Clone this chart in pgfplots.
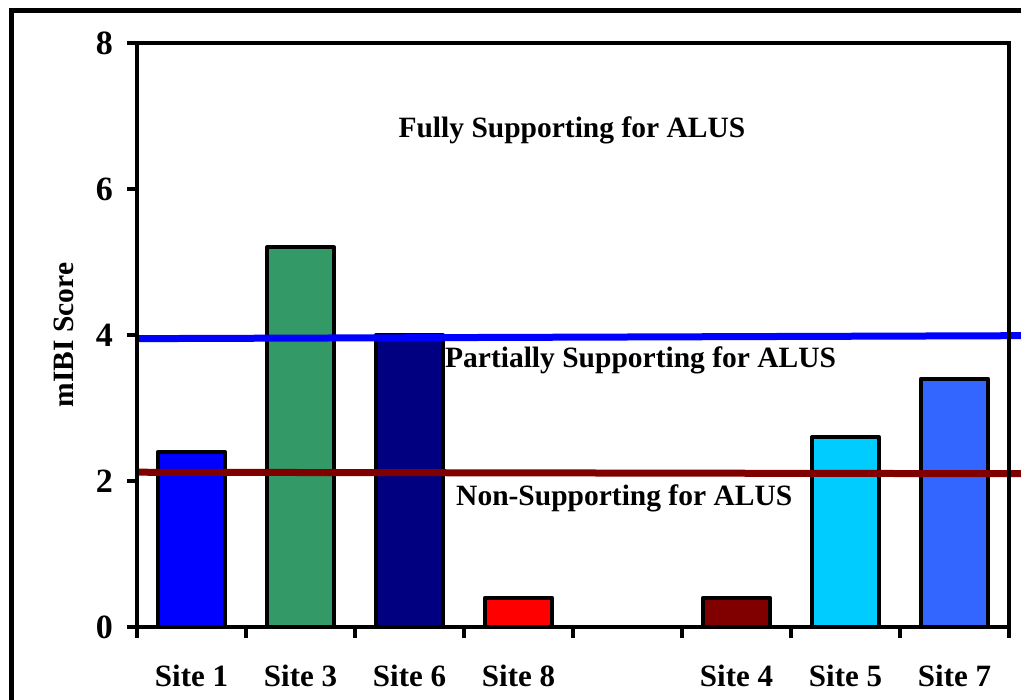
\documentclass[border=0pt]{standalone}
\usepackage{fontspec}
\setmainfont{Liberation Serif}
\usepackage{pgfplots}
\pgfplotsset{compat=1.18}
\definecolor{cA}{RGB}{0,0,255}
\definecolor{cB}{RGB}{51,153,102}
\definecolor{cC}{RGB}{0,0,128}
\definecolor{cD}{RGB}{255,0,0}
\definecolor{cE}{RGB}{128,0,0}
\definecolor{cF}{RGB}{0,204,255}
\definecolor{cG}{RGB}{51,102,255}
\pgfplotsset{mybar/.style={ybar, bar width=67pt, bar shift=0pt, draw=black, line width=4pt, line join=round, fill=#1}}
\begin{document}
\begin{tikzpicture}
\clip (0,0) rectangle (1021pt,700pt);
\draw[line width=5pt, line join=miter] (11pt,-30pt) -- (11pt,689.5pt) -- (1060pt,689.5pt);
\begin{axis}[
  at={(137pt,73pt)}, anchor=south west,
  scale only axis, width=872pt, height=584pt,
  xmin=-0.5, xmax=7.5, ymin=0, ymax=8,
  clip=false, axis on top,
  axis line style={line width=4.5pt, line join=miter},
  tick style={line width=4pt, black},
  tick align=outside, tick pos=left,
  major tick length=10pt, minor tick length=11pt,
  ytick={0,2,4,6,8},
  xtick={0,...,7},
  xticklabels={Site 1,Site 3,Site 6,Site 8,,Site 4,Site 5,Site 7},
  major x tick style={draw=none},
  minor xtick={-0.5,0.5,...,7.5},
  /pgf/number format/assume math mode=true,
  yticklabel style={font=\bfseries\fontsize{34}{40}\selectfont, anchor=east, inner sep=0pt, xshift=-14pt},
  xticklabel style={font=\bfseries\fontsize{31}{37}\selectfont, anchor=base, inner sep=0pt, yshift=-50pt},
  ylabel={mIBI Score},
  ylabel style={font=\bfseries\fontsize{29.5}{35}\selectfont, at={(rel axis cs:-0.0837,0.5)}, anchor=center},
]
\addplot[mybar=cA] coordinates {(0,2.4)};
\addplot[mybar=cB] coordinates {(1,5.2)};
\addplot[mybar=cC] coordinates {(2,4.0)};
\addplot[mybar=cD] coordinates {(3,0.4)};
\addplot[mybar=cE] coordinates {(5,0.4)};
\addplot[mybar=cF] coordinates {(6,2.6)};
\addplot[mybar=cG] coordinates {(7,3.4)};
\addplot[sharp plot, draw=cA, line width=7pt, line cap=butt] coordinates {(-0.5,3.95) (7.5,3.99) (8.5,3.995)};
\addplot[sharp plot, draw=cE, line width=7pt, line cap=butt] coordinates {(-0.5,2.12) (7.5,2.10) (8.5,2.0975)};
\node[anchor=base, font=\bfseries\fontsize{29.5}{35}\selectfont] at (axis cs:3.49,6.71) {Fully Supporting for ALUS};
\node[anchor=base, font=\bfseries\fontsize{29.5}{35}\selectfont] at (axis cs:4.12,3.56) {Partially Supporting for ALUS};
\node[anchor=base, font=\bfseries\fontsize{29.5}{35}\selectfont] at (axis cs:3.97,1.67) {Non-Supporting for ALUS};
\end{axis}
\end{tikzpicture}
\end{document}
